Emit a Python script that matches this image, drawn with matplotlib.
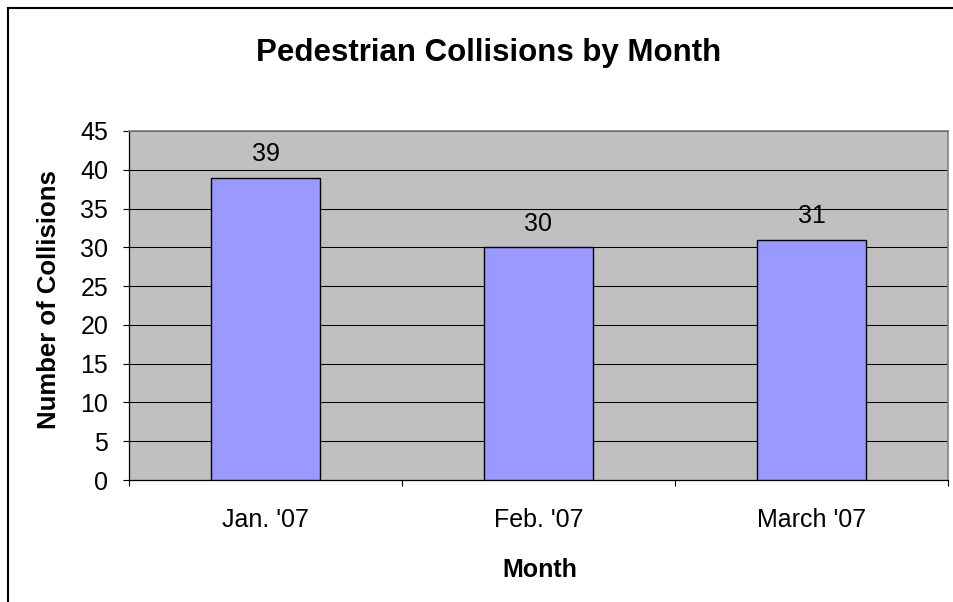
import matplotlib
matplotlib.use("Agg")
import matplotlib.pyplot as plt
from matplotlib.lines import Line2D
import numpy as np

plt.rcParams["font.family"] = ["Liberation Sans", "DejaVu Sans"]

# Data
months = ["Jan. '07", "Feb. '07", "March '07"]
collisions = [39, 30, 31]
y_ticks = [0, 5, 10, 15, 20, 25, 30, 35, 40, 45]

C_BAR = "#9999FF"
C_PLOT = "#C0C0C0"

W, H = 954, 602
fig = plt.figure(figsize=(W / 100, H / 100), dpi=100)
fig.patch.set_facecolor("white")

ax = fig.add_axes([129 / W, 1 - 480 / H, 819 / W, 349 / H])
ax.set_facecolor(C_PLOT)

x = np.arange(len(months))
ax.bar(x, collisions, width=0.4, color=C_BAR, edgecolor="black",
       linewidth=1.0, zorder=3)

for xi, v in zip(x, collisions):
    ax.annotate(str(v), xy=(xi, v), xytext=(0, 12), textcoords="offset points",
                ha="center", va="baseline", fontsize=18, color="black")

ax.set_xlim(-0.5, len(months) - 0.5)
ax.set_ylim(0, 45)
ax.set_yticks(y_ticks)
ax.set_yticklabels([str(t) for t in y_ticks])
ax.yaxis.grid(True, color="black", linewidth=0.75, zorder=0)
ax.set_axisbelow(True)

ax.set_xticks(x)
ax.set_xticklabels(months)
ax.set_xticks(np.arange(-0.5, len(months)), minor=True)
ax.tick_params(axis="x", which="major", length=0, pad=20, labelsize=18)
ax.tick_params(axis="x", which="minor", length=4.5, width=0.8, direction="out")
ax.tick_params(axis="y", which="major", length=4.5, width=0.8, pad=10.5,
               labelsize=18, direction="out")

for side in ("top", "right"):
    ax.spines[side].set_color("#808080")
    ax.spines[side].set_linewidth(1.2)
for side in ("left", "bottom"):
    ax.spines[side].set_color("black")
    ax.spines[side].set_linewidth(0.9)

fig.text(488.5 / W, 1 - 61.5 / H, "Pedestrian Collisions by Month",
         ha="center", va="baseline", fontsize=22.5, fontweight="bold")
fig.text(49 / W, 1 - 300 / H, "Number of Collisions", rotation=90,
         ha="center", va="center", fontsize=18.5, fontweight="bold")
fig.text(540 / W, 1 - 577 / H, "Month", ha="center", va="baseline",
         fontsize=18, fontweight="bold")

# chart area border (left and top visible)
fig.add_artist(Line2D([8 / W, 8 / W], [0, 1 - 8 / H], color="black",
                      linewidth=1.5, transform=fig.transFigure))
fig.add_artist(Line2D([8 / W, 1], [1 - 8 / H, 1 - 8 / H], color="black",
                      linewidth=1.5, transform=fig.transFigure))

fig.savefig("out.png", dpi=100, facecolor="white")
